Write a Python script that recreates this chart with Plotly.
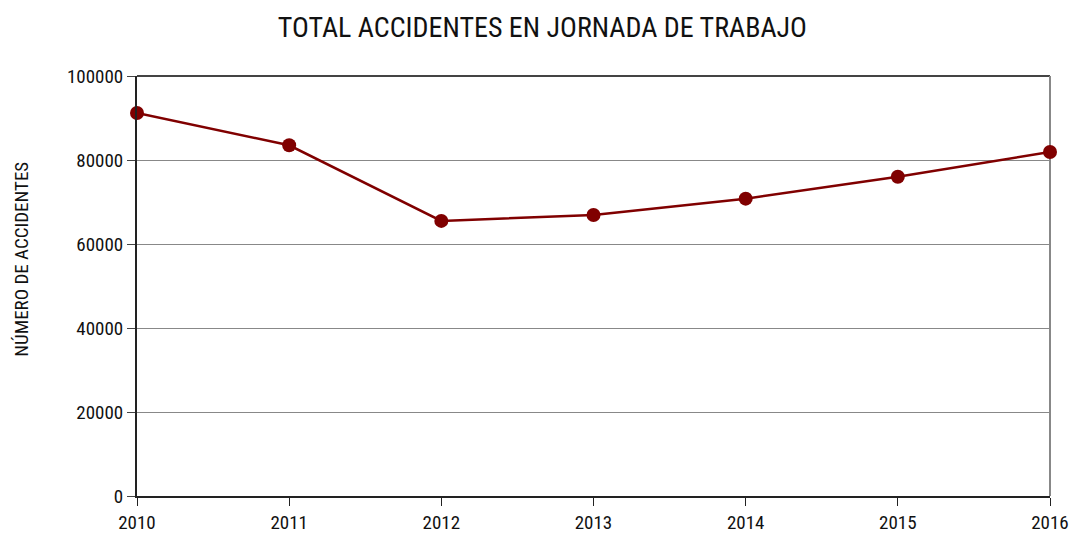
import plotly.graph_objects as go

years = [2010, 2011, 2012, 2013, 2014, 2015, 2016]
accidentes = [91200, 83500, 65500, 66900, 70800, 76000, 81900]
y_ticks = [0, 20000, 40000, 60000, 80000, 100000]

FONT = "Liberation Sans Narrow, Arial Narrow, Roboto Condensed, sans-serif"
RED = "#800000"

fig = go.Figure()
fig.add_trace(go.Scatter(
    x=years, y=accidentes, mode="lines+markers",
    line=dict(color=RED, width=2.5),
    marker=dict(color=RED, size=14),
    cliponaxis=False, showlegend=False,
))

fig.update_layout(
    width=1074, height=536,
    paper_bgcolor="white", plot_bgcolor="white",
    margin=dict(l=137, r=24, t=76, b=40),
    font=dict(family=FONT, size=19, color="#111111"),
    title=dict(text="TOTAL ACCIDENTES EN JORNADA DE TRABAJO",
               x=0.505, xanchor="center", y=0.95, yanchor="middle",
               font=dict(family=FONT, size=28, color="#111111")),
    xaxis=dict(range=[2010, 2016], tickvals=years, ticktext=[str(y) for y in years],
               showgrid=False, zeroline=False, showline=True, linecolor="#222222", linewidth=2,
               ticks="outside", ticklen=8, tickcolor="#222222", tickfont=dict(size=19),
               automargin=False),
    yaxis=dict(range=[0, 100000], tickvals=y_ticks, ticktext=[str(v) for v in y_ticks],
               showgrid=True, gridcolor="#888888", gridwidth=1, zeroline=False,
               showline=True, linecolor="#222222", linewidth=2,
               ticks="outside", ticklen=8, tickcolor="#444444", tickfont=dict(size=19),
               automargin=False),
    annotations=[dict(text="NÚMERO DE ACCIDENTES", textangle=-90,
                      xref="paper", yref="paper", x=-0.126, y=0.565,
                      xanchor="center", yanchor="middle", showarrow=False,
                      font=dict(family=FONT, size=19, color="#111111"))],
)
# top and right border of plot area
fig.add_shape(type="line", xref="paper", yref="paper", x0=0, x1=1, y0=1, y1=1,
              line=dict(color="#444444", width=2), layer="below")
fig.add_shape(type="line", xref="paper", yref="paper", x0=1, x1=1, y0=0, y1=1,
              line=dict(color="#888888", width=2), layer="below")

fig.write_html("out.html", config={"displayModeBar": False},
               post_script="document.body.style.margin='0px';document.body.style.overflow='hidden';")
